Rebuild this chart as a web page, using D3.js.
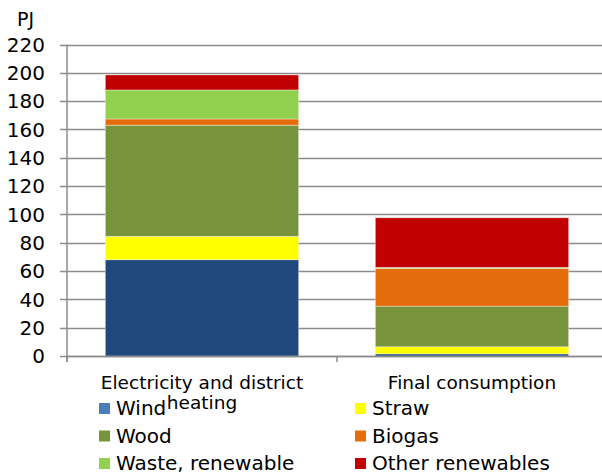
<!DOCTYPE html>
<html><head><meta charset="utf-8">
<script src="https://cdn.jsdelivr.net/npm/d3@7"></script>
<style>body{margin:0;background:#fff}svg{display:block}text{font-family:"DejaVu Sans",Verdana,sans-serif;fill:#000}</style>
</head><body>
<script>
const categories = ["Electricity and district heating", "Final consumption"];
const categoryLines = [["Electricity and district", "heating"], ["Final consumption"]];
const series = ["Wind", "Straw", "Wood", "Biogas", "Waste, renewable", "Other renewables"];
const wind = [68, 1.5];
const straw = [16.5, 5];
const wood = [78.5, 28.7];
const biogas = [4.4, 26.6];
const waste = [20.5, 0.8];
const other = [10.6, 35];
const yTicks = [0, 20, 40, 60, 80, 100, 120, 140, 160, 180, 200, 220];
const colors = ["#1F497D", "#FFFF00", "#77933C", "#E46C0A", "#92D050", "#C00000"];
const legendColors = ["#4A7EBB", "#FFFF00", "#77933C", "#E46C0A", "#92D050", "#C00000"];
const legendOrder = ["Wind", "Straw", "Wood", "Biogas", "Waste, renewable", "Other renewables"];

const W = 602, H = 475;
const m = {left: 67, right: -5, top: 44.5, bottom: 119};
const svg = d3.select("body").append("svg").attr("width", W).attr("height", H);

const rows = categories.map((c, i) => ({cat: c, Wind: wind[i], Straw: straw[i], Wood: wood[i], Biogas: biogas[i], "Waste, renewable": waste[i], "Other renewables": other[i]}));
const stack = d3.stack().keys(series)(rows);

const x = d3.scaleBand().domain(categories).range([m.left, W - m.right]).paddingInner(0.284).paddingOuter(0.142);
const y = d3.scaleLinear().domain([0, 220]).range([H - m.bottom, m.top]);

// gridlines
svg.append("g").selectAll("line").data(yTicks).join("line")
  .attr("x1", m.left - 7).attr("x2", W).attr("y1", d => Math.round(y(d)) + 0.5).attr("y2", d => Math.round(y(d)) + 0.5)
  .attr("stroke", "#8c8c8c").attr("stroke-width", 1.5);

// y axis line
svg.append("line").attr("x1", m.left).attr("x2", m.left).attr("y1", y(220)).attr("y2", y(0) + 6)
  .attr("stroke", "#8c8c8c").attr("stroke-width", 1.5);

// bars
svg.append("g").selectAll("g").data(stack).join("g")
  .attr("fill", (d, i) => colors[i])
  .selectAll("rect").data(d => d).join("rect")
  .attr("x", d => x(d.data.cat)).attr("width", x.bandwidth())
  .attr("y", d => y(d[1])).attr("height", d => y(d[0]) - y(d[1]))
  .attr("stroke", "rgba(255,255,255,0.45)").attr("stroke-width", 0.8);

// x axis
svg.append("line").attr("x1", m.left).attr("x2", W).attr("y1", Math.round(y(0)) + 0.5).attr("y2", Math.round(y(0)) + 0.5)
  .attr("stroke", "#8c8c8c").attr("stroke-width", 1.5);
const boundaries = [m.left, x(categories[1]) - x.step() * x.paddingInner() / 2];
svg.append("g").selectAll("line").data(boundaries).join("line")
  .attr("x1", d => d).attr("x2", d => d).attr("y1", y(0)).attr("y2", y(0) + 6)
  .attr("stroke", "#8c8c8c").attr("stroke-width", 1.5);

// y tick labels
svg.append("g").selectAll("text").data(yTicks).join("text")
  .attr("x", 45).attr("y", d => y(d)).attr("dy", "0.36em").attr("text-anchor", "end")
  .attr("font-size", 20).text(d => d);

svg.append("text").attr("x", 17).attr("y", 26).attr("font-size", 19).text("PJ");

// category labels
categories.forEach((c, i) => {
  const t = svg.append("text").attr("text-anchor", "middle").attr("font-size", 18.5);
  categoryLines[i].forEach((ln, j) => {
    t.append("tspan").attr("x", x(c) + x.bandwidth() / 2).attr("y", 389 + j * 20).text(ln);
  });
});

// legend
const lg = svg.append("g");
legendOrder.forEach((s, i) => {
  const col = i % 2, row = Math.floor(i / 2);
  const gx = col === 0 ? 99 : 355;
  const gy = 403 + row * 27.5;
  lg.append("rect").attr("x", gx).attr("y", gy).attr("width", 11).attr("height", 11)
    .attr("fill", legendColors[series.indexOf(s)]);
  lg.append("text").attr("x", gx + 17).attr("y", gy + 12).attr("font-size", 20).text(s);
});
</script>
</body></html>
